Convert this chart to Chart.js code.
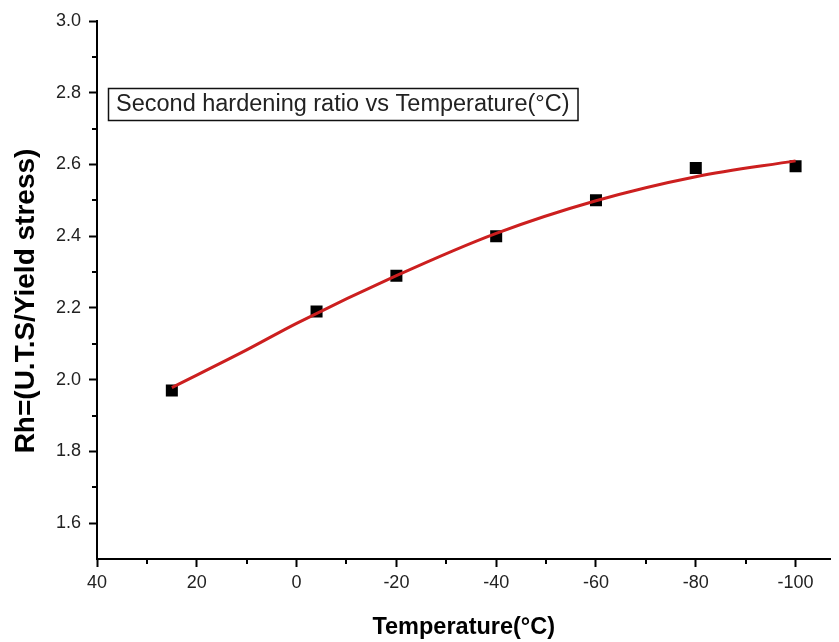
<!DOCTYPE html>
<html>
<head>
<meta charset="utf-8">
<script src="https://cdn.jsdelivr.net/npm/chart.js@4/dist/chart.umd.min.js"></script>
<style>
  html, body { margin: 0; padding: 0; background: #fff; }
  canvas { display: block; }
</style>
</head>
<body>
<canvas id="rh" width="839" height="642"></canvas>
<script>
// measured points
const tempC = [25, -4, -20, -40, -60, -80, -100];
const rhRatio = [1.97, 2.19, 2.29, 2.40, 2.50, 2.59, 2.595];

// red fit curve, read along its length
const fitTemp = [25, 10, 0, -20, -40, -60, -80, -100];
const fitRh = [1.978, 2.083, 2.157, 2.29, 2.408, 2.499, 2.566, 2.61];

const xTicks = [40, 20, 0, -20, -40, -60, -80, -100];
const xMinor = [30, 10, -10, -30, -50, -70, -90];
const yTicks = [1.6, 1.8, 2.0, 2.2, 2.4, 2.6, 2.8, 3.0];
const yMinor = [1.7, 1.9, 2.1, 2.3, 2.5, 2.7, 2.9];

const boxText = 'Second hardening ratio vs Temperature(°C)';
const yTitle = 'Rh=(U.T.S/Yield stress)';

const FONT = '"Liberation Sans", Arial, sans-serif';

// minor ticks, y title and the boxed caption
const extras = {
  id: 'extras',
  afterDraw(chart) {
    const {ctx, chartArea, scales: {x, y}} = chart;
    ctx.save();
    ctx.strokeStyle = '#000';
    ctx.lineWidth = 2;
    ctx.beginPath();
    xMinor.forEach(v => {
      const px = Math.round(x.getPixelForValue(v));
      ctx.moveTo(px, chartArea.bottom);
      ctx.lineTo(px, chartArea.bottom + 5);
    });
    yMinor.forEach(v => {
      const py = Math.round(y.getPixelForValue(v));
      ctx.moveTo(chartArea.left, py);
      ctx.lineTo(chartArea.left - 5, py);
    });
    ctx.stroke();

    // y axis title, sitting a bit below the plot's middle
    ctx.save();
    ctx.translate(26, (chartArea.top + chartArea.bottom) / 2 + 11);
    ctx.rotate(-Math.PI / 2);
    ctx.font = 'bold 28px ' + FONT;
    ctx.fillStyle = '#000';
    ctx.textAlign = 'center';
    ctx.textBaseline = 'middle';
    ctx.fillText(yTitle, 0, 0);
    ctx.restore();

    ctx.font = '23.5px ' + FONT;
    const tw = ctx.measureText(boxText).width;
    const bx = chartArea.left + 11, by = chartArea.top + 67;
    ctx.lineWidth = 1.5;
    ctx.strokeStyle = '#111';
    ctx.strokeRect(bx + 0.5, by + 0.5, tw + 16, 32);
    ctx.fillStyle = '#222';
    ctx.textBaseline = 'middle';
    ctx.fillText(boxText, bx + 8, by + 17);
    ctx.restore();
  }
};

const tickFont = {family: FONT, size: 18};

new Chart(document.getElementById('rh'), {
  type: 'scatter',
  data: {
    datasets: [
      {
        label: 'fit',
        data: fitTemp.map((t, i) => ({x: t, y: fitRh[i]})),
        showLine: true,
        borderColor: '#cc1f1f',
        borderWidth: 3,
        pointRadius: 0,
        cubicInterpolationMode: 'monotone',
        order: 0
      },
      {
        label: 'Rh',
        data: tempC.map((t, i) => ({x: t, y: rhRatio[i]})),
        showLine: false,
        pointStyle: 'rect',
        pointRadius: 8.5,
        backgroundColor: '#000',
        borderColor: '#000',
        borderWidth: 0,
        order: 1
      }
    ]
  },
  options: {
    responsive: false,
    animation: false,
    devicePixelRatio: 1,
    layout: {padding: {top: 21, right: 0, left: 0, bottom: 0}},
    plugins: {legend: {display: false}, tooltip: {enabled: false}},
    scales: {
      x: {
        type: 'linear',
        reverse: true,
        min: -107,
        max: 40,
        afterBuildTicks: s => { s.ticks = xTicks.map(v => ({value: v})); },
        afterFit: s => { s.height = 83; },
        border: {display: true, color: '#000', width: 2},
        grid: {drawOnChartArea: false, drawTicks: true, tickLength: 8, tickWidth: 2, tickColor: '#000'},
        ticks: {color: '#222', font: tickFont, padding: 5, maxRotation: 0, callback: v => String(v)},
        title: {display: true, text: 'Temperature(°C)', color: '#000',
          font: {family: FONT, size: 23.5, weight: 'bold'}, padding: {top: 0, bottom: 0}}
      },
      y: {
        type: 'linear',
        min: 1.5,
        max: 3.0,
        afterBuildTicks: s => { s.ticks = yTicks.map(v => ({value: v})); },
        afterFit: s => { s.width = 97; },
        border: {display: true, color: '#000', width: 2},
        grid: {drawOnChartArea: false, drawTicks: true, tickLength: 8, tickWidth: 2, tickColor: '#000'},
        ticks: {color: '#222', font: tickFont, padding: 8, callback: v => v.toFixed(1)},
        title: {display: false}
      }
    }
  },
  plugins: [extras]
});
</script>
</body>
</html>
